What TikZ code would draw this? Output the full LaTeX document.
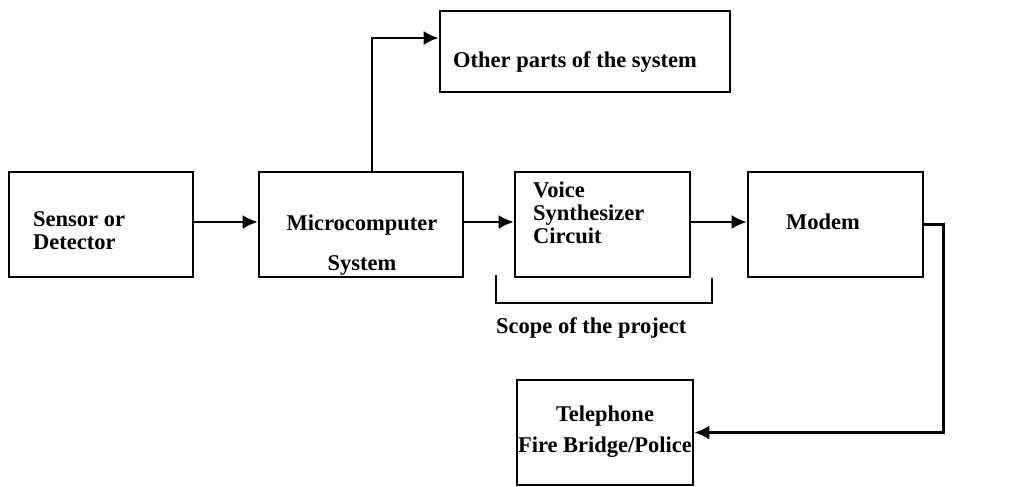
\documentclass[tikz,border=0pt]{standalone}
\usepackage{fontspec}
\setmainfont{Liberation Serif}
\usetikzlibrary{arrows.meta,positioning}

\begin{document}
\begin{tikzpicture}[x=1pt,y=-1pt,
  block/.style={draw,line width=2.6pt,inner sep=0pt},
  txt/.style={font=\fontsize{22.5}{23}\selectfont\bfseries,inner sep=0pt},
  arr/.style={line width=2.6pt,-{Latex[length=15pt,width=14pt]}}]
\useasboundingbox (0,0) rectangle (1031,487);
\node[block,minimum width=184pt,minimum height=105pt] (sensor) at (101,224.5) {};
\node[block,minimum width=204pt,minimum height=105pt] (micro) at (361,224.5) {};
\node[block,minimum width=175pt,minimum height=105pt] (voice) at (602.5,224.5) {};
\node[block,minimum width=175pt,minimum height=105pt] (modem) at (835.5,224.5) {};
\node[block,minimum width=290pt,minimum height=81pt] (other) at (585,51.5) {};
\node[block,minimum width=176pt,minimum height=105pt] (tel) at (605,432.5) {};
\node[txt,align=left,anchor=west] (sensortxt) at (33,231) {Sensor or\\Detector};
\node[txt] (microtxt) at (362,225) {Microcomputer};
\node[txt] (systxt) at (362,265) {System};
\node[txt,align=left,anchor=west] (voicetxt) at (533,213) {Voice\\Synthesizer\\Circuit};
\node[txt] (modemtxt) at (823,222) {Modem};
\node[txt,anchor=west] (othertxt) at (453,62) {Other parts of the system};
\node[txt,align=center,font=\fontsize{22.5}{31}\selectfont\bfseries] (teltxt) at (605,432) {Telephone\\Fire Bridge/Police};
\coordinate (brA) at (496,275);
\coordinate (brB) at (712,278);
\draw[line width=2.6pt] (brA) -- (496,303) -- (712,303) -- (brB);
\node[txt,anchor=west] (scope) at (496,328) {Scope of the project};
\draw[arr] ([yshift=2.5pt]sensor.east) -- ([yshift=2.5pt]micro.west);
\draw[arr] ([yshift=2.5pt]micro.east) -- ([yshift=2.5pt]voice.west);
\draw[arr] ([yshift=2.5pt]voice.east) -- ([yshift=2.5pt]modem.west);
\draw[arr] ([xshift=11pt]micro.north) |- ([yshift=13.5pt]other.west);
\draw[arr] (modem.east) -- ++(19,0) |- (tel.east);
\end{tikzpicture}
\end{document}
